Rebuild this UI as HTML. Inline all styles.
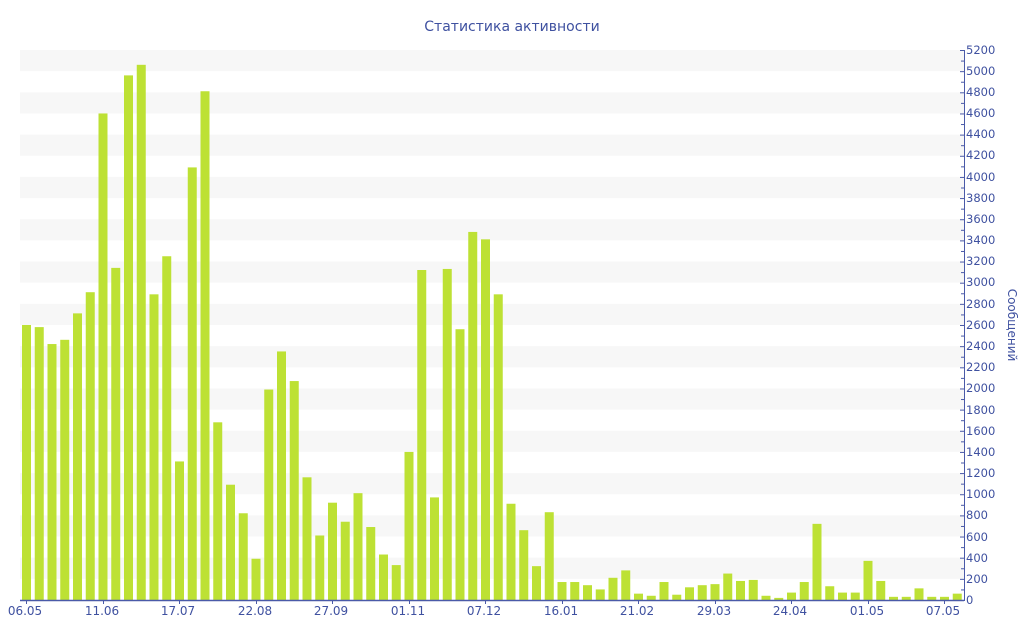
<!DOCTYPE html>
<html><head><meta charset="utf-8"><style>
html,body{margin:0;padding:0;background:#fff;}
svg{display:block;font-family:"DejaVu Sans","Liberation Sans",sans-serif;}
</style></head><body>
<svg id="c" width="1024" height="640" viewBox="0 0 1024 640">
<g id="bands"></g>
<g id="bars"></g>
<line x1="20" y1="600.5" x2="964" y2="600.5" stroke="#4a5aa8" stroke-width="1.5"/>
<line x1="964.5" y1="50" x2="964.5" y2="601" stroke="#4a5aa8" stroke-width="1"/>
<g id="ticks" stroke="#4a5aa8" stroke-width="1"></g>
<text x="512" y="31" text-anchor="middle" font-size="14" fill="#3f51a0">Статистика активности</text>
<g font-size="11.5" fill="#3f51a0">
<text x="966" y="604">0</text><text x="966" y="583">200</text><text x="966" y="562">400</text><text x="966" y="541">600</text><text x="966" y="519">800</text>
<text x="966" y="498">1000</text><text x="966" y="477">1200</text><text x="966" y="456">1400</text><text x="966" y="435">1600</text><text x="966" y="414">1800</text>
<text x="966" y="392">2000</text><text x="966" y="371">2200</text><text x="966" y="350">2400</text><text x="966" y="329">2600</text><text x="966" y="308">2800</text>
<text x="966" y="286">3000</text><text x="966" y="265">3200</text><text x="966" y="244">3400</text><text x="966" y="223">3600</text><text x="966" y="202">3800</text>
<text x="966" y="181">4000</text><text x="966" y="159">4200</text><text x="966" y="138">4400</text><text x="966" y="117">4600</text><text x="966" y="96">4800</text>
<text x="966" y="75">5000</text><text x="966" y="54">5200</text>
</g>
<g font-size="12" fill="#3f51a0" text-anchor="middle">
<text x="25" y="615">06.05</text><text x="102" y="615">11.06</text><text x="178" y="615">17.07</text><text x="255" y="615">22.08</text>
<text x="331" y="615">27.09</text><text x="408" y="615">01.11</text><text x="484" y="615">07.12</text><text x="561" y="615">16.01</text>
<text x="637" y="615">21.02</text><text x="714" y="615">29.03</text><text x="790" y="615">24.04</text><text x="867" y="615">01.05</text><text x="943" y="615">07.05</text>
</g>
<text transform="translate(1008,325) rotate(90)" text-anchor="middle" font-size="12" fill="#3f51a0">Сообщений</text>
</svg>
<script>
var v=[2600,2580,2420,2460,2710,2910,4600,3140,4960,5060,2890,3250,1310,4090,4810,1680,1090,820,390,1990,2350,2070,1160,610,920,740,1010,690,430,330,1400,3120,970,3130,2560,3480,3410,2890,910,660,320,830,170,170,140,100,210,280,60,40,170,50,120,140,150,250,180,190,40,20,70,170,720,130,70,70,370,180,30,30,110,30,30,60];
var ns="http://www.w3.org/2000/svg",k=550/5200;
function el(p,t,a){var e=document.createElementNS(ns,t);for(var i in a)e.setAttribute(i,a[i]);p.appendChild(e);}
var B=document.getElementById('bands'),R=document.getElementById('bars'),T=document.getElementById('ticks');
for(var s=4800;s>=0;s-=400){el(B,'rect',{x:20,y:600-(s+400)*k,width:944,height:200*k,fill:'#f7f7f7'});}
v.forEach(function(d,i){var h=d*k;el(R,'rect',{x:22+i*12.75,y:600-h,width:9,height:h,fill:'#bde134'});});
for(var t=0;t<=5200;t+=100){var y=600-t*k+0.5;el(T,'line',{x1:t%200?961:960,y1:y,x2:964,y2:y});}
[26,103,179,256,332,409,485,562,638,715,791,868,944].forEach(function(x){el(T,'line',{x1:x+0.5,y1:600,x2:x+0.5,y2:604});});
</script>
</body></html>
